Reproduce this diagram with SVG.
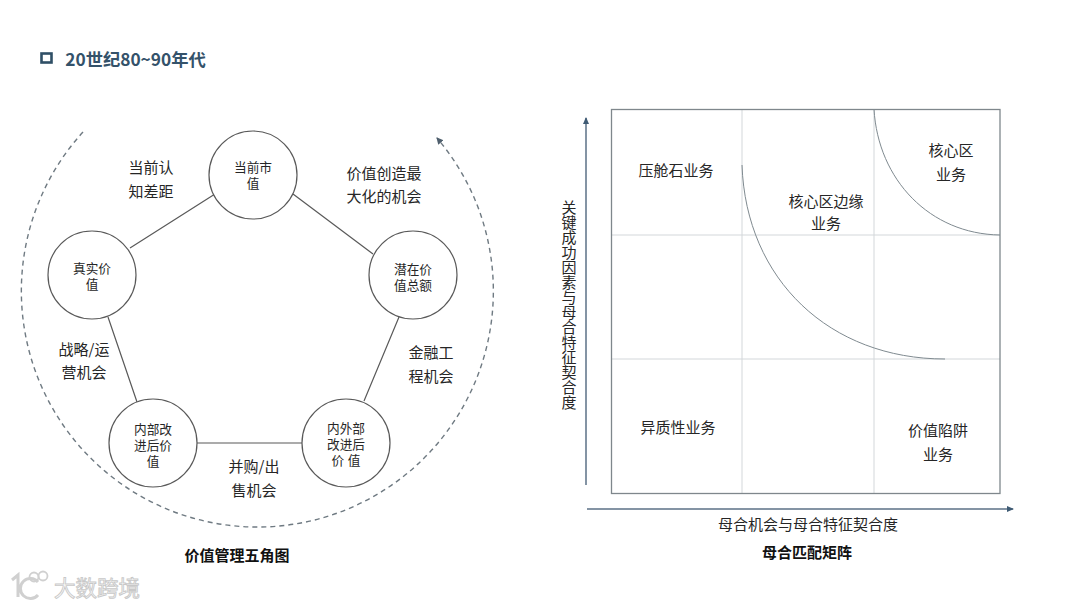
<svg xmlns="http://www.w3.org/2000/svg" width="1080" height="608" viewBox="0 0 1080 608">
<style>
text{font-family:"Noto Sans CJK SC","Noto Sans","Liberation Sans",sans-serif;fill:#262626;text-anchor:middle}
.n{font-family:"Liberation Sans","Noto Sans CJK SC",sans-serif;font-size:12.7px}
.l{font-size:15px}
.b{font-size:15px;font-weight:700;fill:#111}
.c{fill:#fff;stroke:#595959;stroke-width:1.2}
.e{stroke:#595959;stroke-width:1.2;fill:none}
.g{stroke:#d3d7da;stroke-width:1;fill:none}
.q{stroke:#7f8a90;stroke-width:1;fill:none}
.a{stroke:#5b7186;stroke-width:1.5;fill:none}
.w{font-size:21.5px;fill:#fff;stroke:#c8c8c8;stroke-width:.9}
</style>
<defs>
<marker id="ah" markerWidth="8" markerHeight="8" refX="6" refY="3" orient="auto" markerUnits="userSpaceOnUse"><path d="M0,0L7,3L0,6z" fill="#3f5b74"/></marker>
<marker id="ad" markerWidth="9" markerHeight="9" refX="6" refY="3.5" orient="auto" markerUnits="userSpaceOnUse"><path d="M0,0L7,3.5L0,7z" fill="#4f5f6d"/></marker>
</defs>
<rect width="1080" height="608" fill="#fff"/>
<g id="title">
<rect x="41.5" y="53.5" width="10" height="9" fill="none" stroke="#2f4f66" stroke-width="2.6"/>
<text x="135.500" y="65.500" style="font-size:17.300px;font-weight:700;fill:#34526a">20世纪80~90年代</text>
</g>
<g id="connectors">
<path class="e" d="M293,194L373,254M399,317L364,401M302,443H197M137,402L108,317M130,248L215,194"/>
<path d="M83,132A236,236 0 1 0 437,138" fill="none" stroke="#6f7a82" stroke-width="1.4" stroke-dasharray="5 4" marker-end="url(#ad)"/>
<path class="a" d="M586,485V118" marker-end="url(#ah)"/>
<path class="a" d="M587,509H1013" marker-end="url(#ah)"/>
</g>
<g id="n1"><circle class="c" cx="253" cy="175" r="44"/><text class="n" x="253" y="172">当前市</text><text class="n" x="253" y="188">值</text></g>
<g id="n2"><circle class="c" cx="413" cy="275" r="44"/><text class="n" x="413" y="274">潜在价</text><text class="n" x="413" y="290">值总额</text></g>
<g id="n3"><circle class="c" cx="346" cy="443" r="44"/><text class="n" x="346" y="433">内外部</text><text class="n" x="346" y="449">改进后</text><text class="n" x="346" y="465">价 值</text></g>
<g id="n4"><circle class="c" cx="153" cy="443" r="44"/><text class="n" x="153" y="434">内部改</text><text class="n" x="153" y="450">进后价</text><text class="n" x="153" y="466">值</text></g>
<g id="n5"><circle class="c" cx="92" cy="275" r="44"/><text class="n" x="92" y="273">真实价</text><text class="n" x="92" y="289">值</text></g>
<g id="pentagon-labels">
<text class="l" x="151" y="173">当前认</text><text class="l" x="151" y="197">知差距</text>
<text class="l" x="384" y="179">价值创造最</text><text class="l" x="384" y="202">大化的机会</text>
<text class="l" x="431" y="358">金融工</text><text class="l" x="431" y="382">程机会</text>
<text class="l" x="254" y="472">并购/出</text><text class="l" x="254" y="496">售机会</text>
<text class="l" x="84" y="355">战略/运</text><text class="l" x="84" y="378">营机会</text>
<text class="b" x="237" y="561">价值管理五角图</text>
</g>
<g id="matrix">
<path class="g" d="M742,109V494M874,109V494M611,235H1000M611,359H1000"/>
<rect x="611.5" y="109.5" width="388.500" height="384" fill="none" stroke="#7f878c" stroke-width="1.3"/>
<path class="q" d="M742,165C746,280 830,359 945,359"/>
<path class="q" d="M874,109C878,180 930,234 1000,235"/>
</g>
<g id="matrix-labels">
<text class="l" x="676" y="176">压舱石业务</text>
<text class="l" x="826" y="207">核心区边缘</text><text class="l" x="826" y="229">业务</text>
<text class="l" x="951" y="156">核心区</text><text class="l" x="951" y="180">业务</text>
<text class="l" x="678" y="433">异质性业务</text>
<text class="l" x="938" y="436">价值陷阱</text><text class="l" x="938" y="460">业务</text>
<text class="l" x="569" y="200" style="writing-mode:vertical-rl;text-anchor:start">关键成功因素与母合特征契合度</text>
<text class="l" x="808" y="530">母合机会与母合特征契合度</text>
<text class="b" x="807" y="558">母合匹配矩阵</text>
</g>
<g id="watermark">
<path d="M12,580L18,575V597M38,582A10,10 0 1 0 38,595" fill="none" stroke="#d0d0d0" stroke-width="3"/>
<circle cx="34" cy="577" r="4.500" fill="none" stroke="#d0d0d0" stroke-width="1.800"/>
<circle cx="43" cy="576" r="4.500" fill="none" stroke="#d0d0d0" stroke-width="1.800"/>
<text class="w" x="97" y="596">大数跨境</text>
</g>
</svg>
